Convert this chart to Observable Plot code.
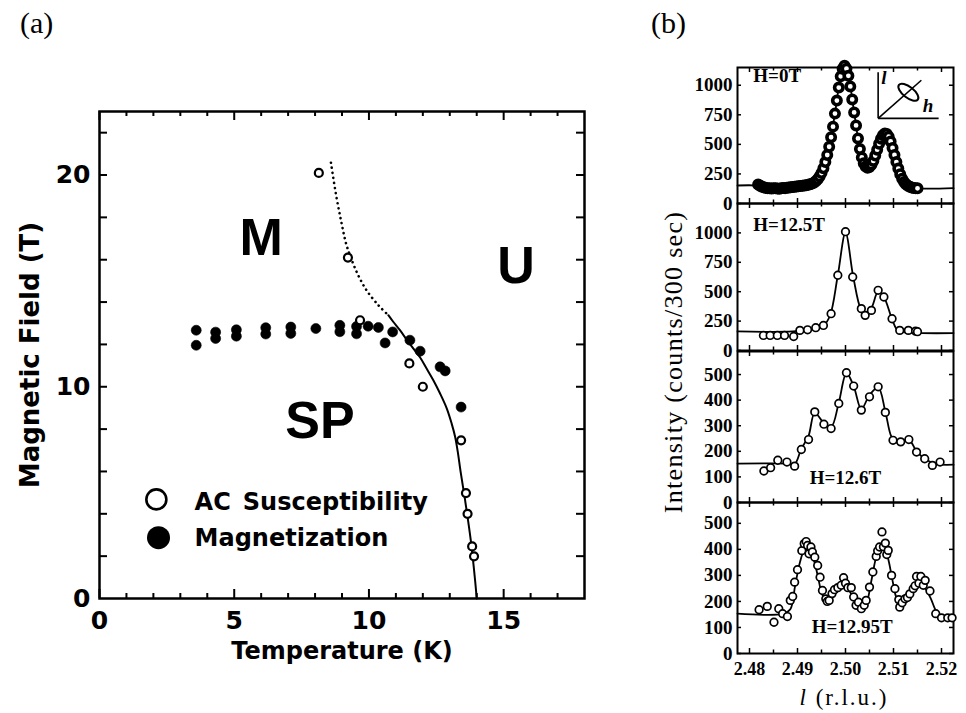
<!DOCTYPE html>
<html>
<head>
<meta charset="utf-8">
<script src="https://cdn.jsdelivr.net/npm/d3@7"></script>
<script src="https://cdn.jsdelivr.net/npm/@observablehq/plot@0.6"></script>
<style>
  body { margin: 0; background: #fff; }
  #page { position: relative; width: 966px; height: 713px; overflow: hidden; background: #fff; }
  .tag { position: absolute; font-family: "Liberation Serif", "Times New Roman", serif; font-size: 30px; line-height: 1; }
  .blabel { position: absolute; font-family: "Liberation Serif", "Times New Roman", serif; white-space: nowrap; text-align: center; }
</style>
</head>
<body>
<div id="page">
  <div class="tag" style="left:20px; top:8px;">(a)</div>
  <div class="tag" style="left:651px; top:8px;">(b)</div>
  <div class="blabel" style="left:474px; top:349px; width:400px; height:26px; line-height:26px; font-size:26px; letter-spacing:1.3px; transform:rotate(-90deg);">Intensity (counts/300 sec)</div>
  <div class="blabel" style="left:744px; top:686px; width:200px; height:24px; line-height:24px; font-size:23px; letter-spacing:2px;"><i>l</i> (r.l.u.)</div>
</div>
<script>
// ---------- (a) phase diagram: temperature (K) vs magnetic field (T) ----------
const acSusceptibility = [
  [8.14, 20.1], [9.22, 16.1], [9.67, 13.14], [11.5, 11.1], [12.0, 10.0],
  [13.42, 7.47], [13.6, 4.98], [13.66, 4.0], [13.83, 2.46], [13.9, 1.99]
];
const magnetization = [
  [3.59, 12.67], [3.59, 11.96], [4.31, 12.58], [4.31, 12.28], [5.08, 12.69], [5.08, 12.39],
  [6.17, 12.79], [6.17, 12.49], [7.10, 12.82], [7.10, 12.52], [8.03, 12.75],
  [8.92, 12.9], [8.92, 12.6], [9.54, 12.85], [9.54, 12.5], [9.97, 12.86], [10.35, 12.8],
  [10.6, 12.07], [10.88, 12.59], [11.52, 12.2], [11.9, 11.68], [12.64, 10.94],
  [12.83, 10.75], [13.42, 9.04]
];
// boundary guides: dotted (extrapolated) and solid
const boundaryDotted = [
  [8.59, 20.58], [8.77, 19.13], [8.96, 17.87], [9.15, 16.77], [9.27, 16.3],
  [9.57, 15.35], [9.91, 14.56], [10.35, 13.85], [10.72, 13.38]
];
const boundarySolid = [
  [10.72, 13.38], [10.9, 13.07], [11.15, 12.67], [11.4, 12.23], [11.65, 11.8],
  [11.9, 11.38], [12.14, 10.86], [12.39, 10.31], [12.64, 9.68], [12.89, 8.97],
  [13.07, 8.26], [13.2, 7.63], [13.3, 6.9], [13.4, 6.0], [13.57, 4.63],
  [13.78, 2.74], [13.94, 0.85], [14.0, 0]
];
const phaseLabels = [
  {text: "M", T: 6.0, H: 17.0},
  {text: "SP", T: 8.18, H: 8.37},
  {text: "U", T: 15.46, H: 15.7}
];
const tempDomain = [0, 18];
const fieldDomain = [0, 23];
const tempLabels = [0, 5, 10, 15];
const tempMinor = [1, 2, 3, 4, 6, 7, 8, 9, 11, 12, 13, 14, 16, 17];
const fieldLabels = [0, 10, 20];
const fieldTicks = [2, 4, 6, 8, 10, 12, 14, 16, 18, 20, 22];

// ---------- (b) scans along l at several fields ----------
const scan0T = [
  [2.4818,160],[2.4822,150],[2.4826,142],[2.4830,138],[2.4834,132],[2.4838,130],[2.4842,128],[2.4846,126],
  [2.4850,128],[2.4854,130],[2.4858,127],[2.4862,125],[2.4866,128],[2.4870,132],[2.4874,130],[2.4878,134],
  [2.4882,136],[2.4886,138],[2.4890,140],[2.4894,142],[2.4898,144],[2.4902,146],[2.4906,148],[2.4910,150],
  [2.4914,152],[2.4918,155],[2.4922,158],[2.4926,162],[2.4930,168],[2.4934,176],[2.4938,188],[2.4942,205],
  [2.4946,228],[2.4950,258],[2.4954,298],[2.4958,350],[2.4962,410],[2.4966,480],[2.4970,560],[2.4974,650],
  [2.4978,760],[2.4982,870],[2.4986,980],[2.4990,1075],[2.4994,1140],[2.4998,1165],[2.5002,1140],[2.5006,1080],
  [2.5010,990],[2.5014,880],[2.5018,770],[2.5022,660],[2.5026,550],[2.5030,460],[2.5034,390],[2.5038,340],
  [2.5042,312],[2.5046,302],[2.5050,308],[2.5054,328],[2.5058,360],[2.5062,405],[2.5066,455],[2.5070,505],
  [2.5074,548],[2.5078,578],[2.5082,592],[2.5086,588],[2.5090,565],[2.5094,525],[2.5098,470],[2.5102,410],
  [2.5106,350],[2.5110,295],[2.5114,248],[2.5118,210],[2.5122,182],[2.5126,162],[2.5130,150],[2.5134,142],
  [2.5138,136],[2.5142,132],[2.5146,130],[2.5150,128]
];
const fit0T = [
  [2.4775,152],[2.4815,152],[2.4840,132],[2.4870,130],[2.4900,145],[2.4925,160],[2.4940,195],[2.4954,298],
  [2.4966,480],[2.4978,760],[2.4990,1075],[2.4998,1165],[2.5006,1080],[2.5018,770],[2.5030,460],[2.5040,325],
  [2.5047,302],[2.5056,340],[2.5068,480],[2.5082,592],[2.5094,525],[2.5106,350],[2.5118,210],[2.5130,150],
  [2.5145,130],[2.5225,130]
];
const scan125T = [
  [2.4829,128],[2.4843,128],[2.4858,128],[2.4873,128],[2.4892,119],[2.4905,171],[2.4921,176],[2.4938,194],
  [2.4954,213],[2.4970,313],[2.4984,640],[2.5000,1010],[2.5015,625],[2.5033,356],[2.5041,299],[2.5054,341],
  [2.5068,512],[2.5080,455],[2.5097,270],[2.5113,171],[2.5131,171],[2.5146,165],[2.5150,160]
];
const fit125T = [
  [2.4775,162],[2.4890,162],[2.4935,182],[2.4955,215],[2.4968,300],[2.4984,640],[2.5000,1000],[2.5016,630],
  [2.5032,350],[2.5042,305],[2.5055,370],[2.5068,500],[2.5080,455],[2.5098,255],[2.5110,168],[2.5150,150],
  [2.5225,148]
];
const scan126T = [
  [2.4830,123],[2.4844,136],[2.4859,165],[2.4878,158],[2.4894,142],[2.4908,207],[2.4923,246],[2.4936,354],
  [2.4955,306],[2.4970,289],[2.4986,387],[2.5002,507],[2.5017,455],[2.5033,361],[2.5050,413],[2.5068,452],
  [2.5083,352],[2.5099,243],[2.5115,237],[2.5132,246],[2.5148,197],[2.5165,171],[2.5181,145],[2.5197,158]
];
const fit126T = [
  [2.4775,152],[2.4880,152],[2.4894,150],[2.4908,210],[2.4923,260],[2.4936,350],[2.4955,310],[2.4970,295],
  [2.4986,390],[2.5002,505],[2.5017,455],[2.5033,365],[2.5050,420],[2.5068,450],[2.5083,355],[2.5095,260],
  [2.5105,235],[2.5132,245],[2.5148,200],[2.5170,165],[2.5190,150],[2.5225,148]
];
const scan1295T = [
  [2.4820,168],[2.4837,181],[2.4851,120],[2.4861,172],[2.4869,153],[2.4879,142],[2.4885,204],[2.4890,219],
  [2.4894,274],[2.4900,322],[2.4909,395],[2.4914,422],[2.4918,430],[2.4921,415],[2.4924,383],[2.4928,409],
  [2.4931,390],[2.4936,370],[2.4942,338],[2.4947,293],[2.4952,242],[2.4959,210],[2.4962,200],[2.4966,204],
  [2.4972,230],[2.4977,245],[2.4984,253],[2.4991,262],[2.4996,291],[2.5000,270],[2.5005,253],[2.5012,253],
  [2.5017,217],[2.5022,185],[2.5027,197],[2.5033,172],[2.5039,185],[2.5043,204],[2.5050,255],[2.5057,313],
  [2.5064,373],[2.5067,395],[2.5071,409],[2.5076,467],[2.5079,410],[2.5083,424],[2.5086,380],[2.5089,396],
  [2.5096,300],[2.5103,249],[2.5111,207],[2.5113,178],[2.5118,195],[2.5124,210],[2.5129,215],[2.5134,229],
  [2.5141,249],[2.5145,260],[2.5148,296],[2.5153,270],[2.5157,296],[2.5162,262],[2.5166,281],[2.5176,240],
  [2.5188,153],[2.5200,137],[2.5213,137],[2.5222,137]
];
const fit1295T = [
  [2.4775,153],[2.4870,153],[2.4885,170],[2.4895,260],[2.4905,350],[2.4914,395],[2.4922,400],[2.4932,370],
  [2.4942,300],[2.4950,235],[2.4958,205],[2.4966,205],[2.4978,240],[2.4988,258],[2.4998,255],[2.5008,240],
  [2.5018,205],[2.5028,175],[2.5036,170],[2.5045,200],[2.5055,290],[2.5064,370],[2.5072,400],[2.5080,405],
  [2.5088,370],[2.5098,280],[2.5106,215],[2.5114,195],[2.5124,215],[2.5136,235],[2.5148,255],[2.5158,262],
  [2.5168,245],[2.5178,210],[2.5190,160],[2.5205,140],[2.5225,137]
];
const lDomain = [2.4775, 2.5225];
const lLabels = [2.48, 2.49, 2.50, 2.51, 2.52];
const lMinor = [2.485, 2.495, 2.505, 2.515];
const countTicksHigh = [0, 250, 500, 750, 1000];
const countTicksLow = [0, 100, 200, 300, 400, 500];

// scattering-geometry sketch drawn in the zero-field panel (l, counts)
const insetAxes = [
  {l1: 2.5068, c1: 720, l2: 2.5068, c2: 1110},
  {l1: 2.5068, c1: 720, l2: 2.5194, c2: 720},
  {l1: 2.5068, c1: 720, l2: 2.5158, c2: 1042}
];
const insetEllipse = [{l: 2.5131, c: 941}];
const insetLetters = [{t: "l", l: 2.5080, c: 1062}, {t: "h", l: 2.5172, c: 822}];

const page = document.getElementById("page");
const WIDE = "DejaVu Sans, Verdana, sans-serif";
const SANS = "Liberation Sans, Arial, Helvetica, sans-serif";
const SERIF = "Liberation Serif, Times New Roman, serif";

function place(svg, left, top) {
  svg.style.position = "absolute";
  svg.style.left = left + "px";
  svg.style.top = top + "px";
  page.appendChild(svg);
}

// ----- panel (a) -----
{
  const width = 620, height = 713;
  const mL = 99, mR = 36, mT = 111, mB = 115;
  const kx = (tempDomain[1] - tempDomain[0]) / (width - mL - mR);   // K per pixel
  const ky = (fieldDomain[1] - fieldDomain[0]) / (height - mT - mB); // T per pixel
  const Tmax = tempDomain[1], Hmax = fieldDomain[1];
  const tick = {stroke: "black", strokeWidth: 2};
  const heavy = {fontFamily: WIDE, fontWeight: "bold", fill: "black"};
  const block = {fontFamily: SANS, fontWeight: "bold", fill: "black"};

  const svg = Plot.plot({
    width, height,
    marginLeft: mL, marginRight: mR, marginTop: mT, marginBottom: mB,
    style: {background: "transparent", overflow: "visible", fontFamily: WIDE},
    x: {domain: tempDomain, axis: null},
    y: {domain: fieldDomain, axis: null},
    marks: [
      Plot.frame({stroke: "black", strokeWidth: 2.5}),
      // inward ticks on all four sides
      Plot.ruleX(tempMinor, {x: d => d, y1: 0, y2: 5 * ky, ...tick}),
      Plot.ruleX(tempLabels, {x: d => d, y1: 0, y2: 9 * ky, ...tick}),
      Plot.ruleX(tempMinor, {x: d => d, y1: Hmax, y2: Hmax - 5 * ky, ...tick}),
      Plot.ruleX(tempLabels, {x: d => d, y1: Hmax, y2: Hmax - 9 * ky, ...tick}),
      Plot.ruleY(fieldTicks, {y: d => d, x1: 0, x2: 8 * kx, ...tick}),
      Plot.ruleY(fieldTicks, {y: d => d, x1: Tmax, x2: Tmax - 8 * kx, ...tick}),
      // tick labels
      Plot.text(tempLabels, {x: d => d, y: 0, dy: 22, lineAnchor: "middle", text: d => String(d), fontSize: 25, ...heavy}),
      Plot.text(fieldLabels, {x: 0, y: d => d, dx: -9, textAnchor: "end", lineAnchor: "middle", text: d => String(d), fontSize: 25, ...heavy}),
      // axis titles
      Plot.text(["Temperature (K)"], {frameAnchor: "bottom", textAnchor: "middle", lineAnchor: "middle",
        dy: 53, fontSize: 24, ...heavy}),
      Plot.text(["Magnetic Field (T)"], {frameAnchor: "left", textAnchor: "middle", lineAnchor: "middle",
        dx: -69, rotate: -90, fontSize: 26, ...heavy}),
      // phase boundary
      Plot.line(boundaryDotted, {x: d => d[0], y: d => d[1], curve: "catmull-rom", stroke: "black",
        strokeWidth: 2.6, strokeDasharray: "0.1,5", strokeLinecap: "round"}),
      Plot.line(boundarySolid, {x: d => d[0], y: d => d[1], curve: "catmull-rom", stroke: "black", strokeWidth: 2}),
      // data
      Plot.dot(magnetization, {x: d => d[0], y: d => d[1], r: 5, fill: "black", stroke: "black", strokeWidth: 0.6}),
      Plot.dot(acSusceptibility, {x: d => d[0], y: d => d[1], r: 4, fill: "white", stroke: "black", strokeWidth: 2.2}),
      // phase names
      Plot.text(phaseLabels, {x: "T", y: "H", text: "text", fontSize: 52, ...block}),
      // key
      Plot.dot([{T: 2.11, H: 4.68}], {x: "T", y: "H", r: 10, fill: "white", stroke: "black", strokeWidth: 2.6}),
      Plot.dot([{T: 2.19, H: 2.87}], {x: "T", y: "H", r: 11.5, fill: "black"}),
      Plot.text([{T: 3.53, H: 4.56, t: "AC\u2002Susceptibility"}, {T: 3.53, H: 2.86, t: "Magnetization"}],
        {x: "T", y: "H", text: "t", textAnchor: "start", fontSize: 24, ...heavy})
    ]
  });
  place(svg, 0, 0);
}

// ----- panel (b): four stacked scans sharing the l axis -----
const ellipseSymbol = {
  draw(context, size) {
    const r = Math.sqrt(size / Math.PI);
    const rx = r, ry = r * 0.45, k = 0.5523;
    context.moveTo(rx, 0);
    context.bezierCurveTo(rx, ry * k, rx * k, ry, 0, ry);
    context.bezierCurveTo(-rx * k, ry, -rx, ry * k, -rx, 0);
    context.bezierCurveTo(-rx, -ry * k, -rx * k, -ry, 0, -ry);
    context.bezierCurveTo(rx * k, -ry, rx, -ry * k, rx, 0);
    context.closePath();
  }
};

const panelsB = [
  {scan: scan0T, fit: fit0T, top: 1150, frameTop: 67, frameBottom: 203, ticks: countTicksHigh,
   label: "H=0T", labelAt: {l: 2.4808, c: 1076}, anchor: "start", dense: true, sketch: true},
  {scan: scan125T, fit: fit125T, top: 1250, frameTop: 203, frameBottom: 350, ticks: countTicksHigh,
   label: "H=12.5T", labelAt: {l: 2.4808, c: 1067}, anchor: "start"},
  {scan: scan126T, fit: fit126T, top: 590, frameTop: 351, frameBottom: 502, ticks: countTicksLow,
   label: "H=12.6T", labelAt: {l: 2.5000, c: 96}, anchor: "middle"},
  {scan: scan1295T, fit: fit1295T, top: 580, frameTop: 502, frameBottom: 653, ticks: countTicksLow,
   label: "H=12.95T", labelAt: {l: 2.5014, c: 102}, anchor: "middle", xLabels: true}
];

for (const p of panelsB) {
  const mL = 47, mR = 13, mT = 10, mB = p.xLabels ? 60 : 10;
  const width = 276;
  const frameH = p.frameBottom - p.frameTop;
  const height = frameH + mT + mB;
  const ky = p.top / frameH;                                   // counts per pixel
  const kx = (lDomain[1] - lDomain[0]) / (width - mL - mR);    // r.l.u. per pixel
  const tick = {stroke: "black", strokeWidth: 1.5};
  const lMax = lDomain[1], lMin = lDomain[0];

  const marks = [
    Plot.frame({stroke: "black", strokeWidth: 2}),
    Plot.ruleX(lLabels, {x: d => d, y1: 0, y2: 5 * ky, ...tick}),
    Plot.ruleX(lMinor, {x: d => d, y1: 0, y2: 3.5 * ky, ...tick}),
    Plot.ruleX(lLabels, {x: d => d, y1: p.top, y2: p.top - 5 * ky, ...tick}),
    Plot.ruleX(lMinor, {x: d => d, y1: p.top, y2: p.top - 3.5 * ky, ...tick}),
    Plot.ruleY(p.ticks, {y: d => d, x1: lMin, x2: lMin + 4 * kx, ...tick}),
    Plot.ruleY(p.ticks, {y: d => d, x1: lMax, x2: lMax - 4 * kx, ...tick}),
    Plot.text(p.ticks, {x: lMin, y: d => d, dx: -5, textAnchor: "end", text: d => String(d),
      fontFamily: SERIF, fontWeight: "bold", fontSize: 19, fill: "black"}),
    Plot.line(p.fit, {x: d => d[0], y: d => d[1], curve: "catmull-rom", stroke: "black", strokeWidth: 1.8}),
    p.dense
      ? Plot.dot(p.scan, {x: d => d[0], y: d => d[1], r: 4.2, fill: "white", stroke: "black", strokeWidth: 3.6})
      : Plot.dot(p.scan, {x: d => d[0], y: d => d[1], r: 3.8, fill: "white", stroke: "black", strokeWidth: 1.7}),
    Plot.text([p.labelAt], {x: "l", y: "c", text: () => p.label, textAnchor: p.anchor,
      fontFamily: SERIF, fontWeight: "bold", fontSize: 19, fill: "black"})
  ];
  if (p.sketch) {
    marks.push(
      Plot.link(insetAxes, {x1: "l1", y1: "c1", x2: "l2", y2: "c2", stroke: "black", strokeWidth: 1.6}),
      Plot.dot(insetEllipse, {x: "l", y: "c", r: 12, symbol: ellipseSymbol, rotate: 38,
        fill: "none", stroke: "black", strokeWidth: 2}),
      Plot.text(insetLetters, {x: "l", y: "c", text: "t", fontFamily: SERIF, fontStyle: "italic",
        fontWeight: "bold", fontSize: 19, fill: "black"})
    );
  }
  if (p.xLabels) {
    marks.push(Plot.text(lLabels, {x: d => d, y: 0, dy: 16, text: d => d.toFixed(2),
      fontFamily: SERIF, fontWeight: "bold", fontSize: 18, fill: "black"}));
  }

  const svg = Plot.plot({
    width, height,
    marginLeft: mL, marginRight: mR, marginTop: mT, marginBottom: mB,
    style: {background: "transparent", overflow: "visible", fontFamily: SERIF},
    x: {domain: lDomain, axis: null},
    y: {domain: [0, p.top], axis: null},
    marks
  });
  place(svg, 690, p.frameTop - mT);
}
</script>
</body>
</html>
